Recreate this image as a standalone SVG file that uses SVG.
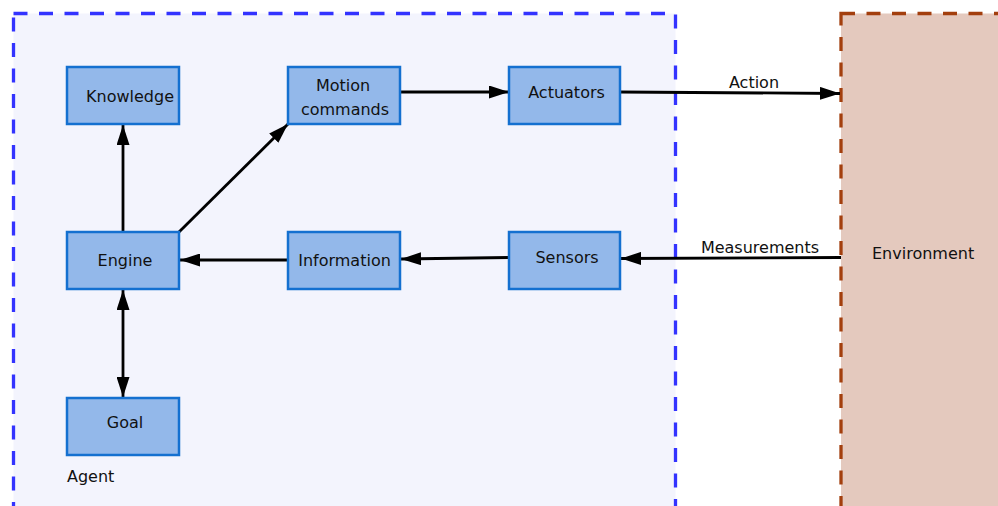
<svg xmlns="http://www.w3.org/2000/svg" width="998" height="506" viewBox="0 0 998 506">
<defs>
<style>
.node rect{fill:#93b8ea;stroke:#1470d0;stroke-width:2.5}
text{font-family:"DejaVu Sans",sans-serif;font-size:16px;fill:#111}
.c{text-anchor:middle}
.e{fill:none;stroke:#000;stroke-width:2.8}
</style>
<marker id="ah" viewBox="0 0 20 13" refX="20" refY="6.5" markerWidth="20" markerHeight="13" markerUnits="userSpaceOnUse" orient="auto-start-reverse">
<path d="M0,0 L20,6.5 L0,13 Z" fill="#000"/>
</marker>
</defs>
<rect x="0" y="0" width="998" height="506" fill="#fff"/>
<g id="agent">
<rect x="13.5" y="13.5" width="662" height="520" fill="#f3f4fd" stroke="#3333ff" stroke-width="3.3" stroke-dasharray="14 11.5"/>
<text x="67" y="482">Agent</text>
</g>
<g id="environment">
<rect x="841" y="13.5" width="200" height="520" fill="#e4c9be" stroke="#a33f0e" stroke-width="3.3" stroke-dasharray="14 11.5"/>
<text x="872" y="259">Environment</text>
</g>
<g id="connectors">
<line class="e" x1="620" y1="92" x2="840" y2="93.5" marker-end="url(#ah)"/>
<line class="e" x1="841" y1="257.5" x2="621" y2="258.5" marker-end="url(#ah)"/>
<line class="e" x1="509" y1="257.5" x2="401" y2="259" marker-end="url(#ah)"/>
<line class="e" x1="288" y1="260" x2="180" y2="260" marker-end="url(#ah)"/>
<line class="e" x1="123" y1="232" x2="123" y2="125" marker-end="url(#ah)"/>
<line class="e" x1="178" y1="233" x2="288" y2="124" marker-end="url(#ah)"/>
<line class="e" x1="400" y1="92" x2="509" y2="92" marker-end="url(#ah)"/>
<line class="e" x1="123" y1="290" x2="123" y2="397" marker-start="url(#ah)" marker-end="url(#ah)"/>
<text class="c" x="754" y="88">Action</text>
<text class="c" x="760" y="253">Measurements</text>
</g>
<g id="knowledge" class="node"><rect x="67" y="67" width="112" height="57"/><text class="c" x="130" y="102">Knowledge</text></g>
<g id="motion" class="node"><rect x="288" y="67" width="112" height="57"/><text class="c" x="343" y="91">Motion</text><text class="c" x="345" y="115">commands</text></g>
<g id="actuators" class="node"><rect x="509" y="67" width="111" height="57"/><text class="c" x="566.5" y="98">Actuators</text></g>
<g id="engine" class="node"><rect x="67" y="232" width="112" height="57"/><text class="c" x="125" y="266">Engine</text></g>
<g id="information" class="node"><rect x="288" y="232" width="112" height="57"/><text class="c" x="344.5" y="266">Information</text></g>
<g id="sensors" class="node"><rect x="509" y="232" width="111" height="57"/><text class="c" x="567" y="263">Sensors</text></g>
<g id="goal" class="node"><rect x="67" y="398" width="112" height="57"/><text class="c" x="125" y="428">Goal</text></g>
</svg>
